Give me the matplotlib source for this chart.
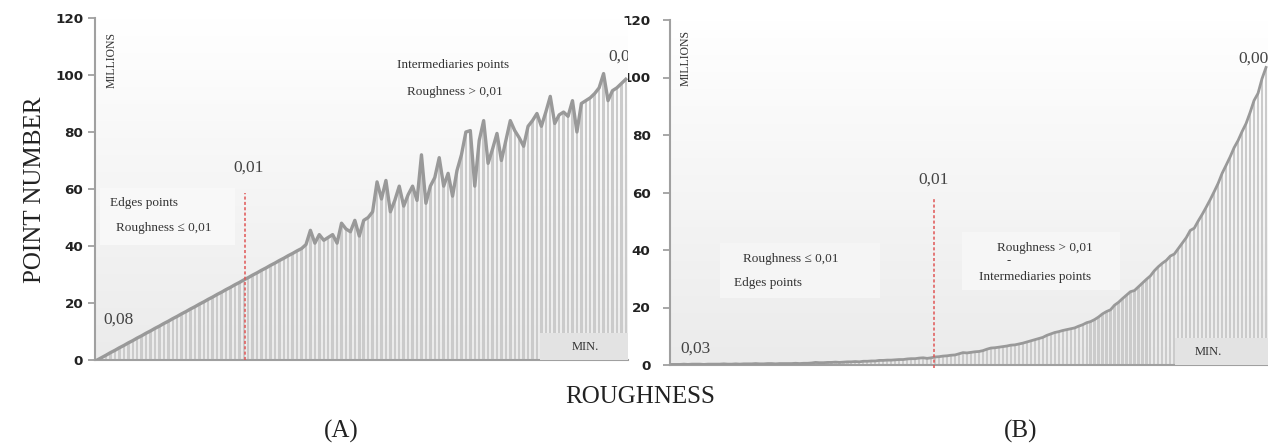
import numpy as np
import matplotlib
matplotlib.use('Agg')
import matplotlib.pyplot as plt
from matplotlib.patches import Rectangle
from matplotlib.colors import LinearSegmentedColormap

# point counts (millions) per roughness class, panel A
counts_a = [0, 0.85, 1.7, 2.6, 3.4, 4.3, 5.1, 6.0, 6.8, 7.7, 8.5, 9.4, 10.2, 11.1, 11.9,
            12.8, 13.6, 14.5, 15.3, 16.2, 17.0, 17.9, 18.7, 19.6, 20.4, 21.3, 22.1, 23.0,
            23.8, 24.7, 25.5, 26.4, 27.2, 28.1, 28.9, 29.8, 30.6, 31.5, 32.3, 33.2, 34.0,
            34.9, 35.7, 36.6, 37.4, 38.3, 39.1,
            40.5, 45.5, 41, 44, 42, 43, 44, 41, 48, 46, 45, 49, 43.5, 49, 50,
            52, 62.5, 56.5, 63, 52, 56, 61, 54, 58, 61, 56, 72, 55, 61, 64,
            71, 61, 65.5, 57.5, 66.5, 72, 80, 80.5, 61, 77, 84, 69, 74, 79.5, 70,
            77, 84, 80.5, 78, 75, 82, 84, 86.5, 82, 87, 92.5, 83, 86, 87, 85.5,
            91, 80, 90, 91, 92, 93.5, 95.5, 100.5, 91, 94.5, 95.5, 97, 98.5]

# panel B
counts_b = [0.2, 0.2, 0.2, 0.3, 0.2, 0.3, 0.3, 0.3, 0.2, 0.3, 0.3, 0.3, 0.3, 0.4, 0.3,
            0.3, 0.4, 0.3, 0.4, 0.4, 0.4, 0.5, 0.4, 0.4, 0.5, 0.5, 0.4, 0.5, 0.5, 0.5,
            0.5, 0.6, 0.5, 0.6, 0.6, 0.7, 0.9, 0.8, 0.8, 0.9, 0.9, 1.0, 0.9, 1.0, 1.1,
            1.1, 1.2, 1.1, 1.3, 1.3, 1.4, 1.4, 1.6, 1.6, 1.7, 1.7, 1.8, 1.9, 1.9, 2.1,
            2.2, 2.2, 2.4, 2.5, 2.3, 2.5, 2.8, 2.9, 3.1, 3.2, 3.4, 3.5, 3.9, 4.3, 4.2,
            4.4, 4.6, 4.7, 5.0, 5.5, 5.9, 6.0, 6.2, 6.4, 6.6, 6.9, 7.0, 7.3, 7.6, 8.0,
            8.4, 8.8, 9.2, 9.6, 10.3, 10.8, 11.3, 11.6, 12.0, 12.3, 12.6, 12.9, 13.5, 14.0, 14.7,
            15.1, 15.8, 16.7, 17.8, 18.6, 19.2, 20.8, 21.8, 23.1, 24.3, 25.5, 25.9, 27.2, 28.5, 29.8,
            31.0, 32.8, 34.2, 35.4, 36.4, 37.9, 38.6, 40.5, 42.4, 44.3, 46.8, 47.6, 50.1, 52.4, 54.9,
            57.5, 60.3, 63.2, 66.7, 69.5, 72.4, 75.6, 78.1, 81.2, 84.0, 87.8, 92.0, 94.5, 99.6, 103.5]

yticks = [0, 20, 40, 60, 80, 100, 120]
split_a = 33.3   # class index where roughness = 0,01
split_b = 65.7

W, H = 1268, 445
fig = plt.figure(figsize=(W / 100, H / 100), dpi=100)
serif = 'Liberation Serif'


def px(x, y):
    return x / W, 1 - y / H


def ftext(x, y, s, **kw):
    kw.setdefault('family', serif)
    kw.setdefault('color', '#333333')
    kw.setdefault('va', 'center')
    fig.text(*px(x, y), s, **kw)


def box(ax, x0, y0, x1, y1, color, z):
    ax.add_patch(Rectangle(px(x0, y1), (x1 - x0) / W, (y1 - y0) / H,
                           transform=fig.transFigure, fc=color, ec='none', zorder=z))


grad = np.linspace(0, 1, 256).reshape(-1, 1)
bg = LinearSegmentedColormap.from_list('bg', ['#ffffff', '#ebebeb'])


def panel(rect, vals, pad, lw):
    ax = fig.add_axes(rect)
    n = len(vals)
    x = np.arange(n)
    ax.imshow(grad, extent=(-0.5, n - 0.5, 0, 120), origin='upper', aspect='auto',
              cmap=bg, zorder=0)
    ax.bar(x, vals, width=0.55, color='#cbcbcb', zorder=2)
    ax.plot(x, vals, color='#999999', lw=lw, zorder=4, solid_joinstyle='round')
    ax.set_xlim(-0.5, n - 0.5)
    ax.set_ylim(0, 120)
    ax.set_yticks(yticks)
    ax.set_xticks([])
    for s in ['top', 'right']:
        ax.spines[s].set_visible(False)
    for s in ['left', 'bottom']:
        ax.spines[s].set_color('#a0a0a0')
        ax.spines[s].set_linewidth(1.5)
    ax.tick_params(axis='y', length=5, width=1.3, color='#a0a0a0', pad=pad)
    for t in ax.get_yticklabels():
        t.set_fontfamily('DejaVu Sans')
        t.set_fontweight('bold')
        t.set_fontsize(9.7)
        t.set_color('#222222')
    return ax


ax_a = panel([95 / W, 85 / H, 533 / W, 342 / H], counts_a, 3.5, 2.4)
ax_b = panel([670 / W, 80 / H, 598 / W, 345 / H], counts_b, 9, 2.0)
ax_a.set_zorder(3)
ax_b.set_zorder(1)

# red split lines
ax_a.plot([split_a, split_a], [0, 58.5], color='#e05555', lw=1.1, ls=(0, (2, 1.5)), zorder=5)
ax_b.plot([split_b, split_b], [-1, 58], color='#e05555', lw=1.1, ls=(0, (2, 1.5)),
          zorder=5, clip_on=False)

# MIN. boxes and faint label boxes
box(ax_a, 540, 333, 630, 360, '#e3e3e3', 3)
box(ax_b, 1175, 338, 1270, 365, '#e3e3e3', 3)
box(ax_a, 100, 188, 235, 245, '#f8f8f8', 1)
box(ax_b, 720, 243, 880, 298, '#f5f5f5', 1)
box(ax_b, 962, 232, 1120, 290, '#f6f6f6', 1)

ax_a.text(115, 106.5, '0,00', family=serif, fontsize=12.5, color='#444444', clip_on=True, va='center')
ax_b.text(142, 106.5, '0,00', family=serif, fontsize=12.5, color='#444444', clip_on=True, va='center')

ftext(35, 190, 'POINT NUMBER', fontsize=18, rotation=90, ha='center', color='#222222')
ftext(640, 397, 'ROUGHNESS', fontsize=18, ha='center', color='#222222')
ftext(341, 431, '(A)', fontsize=18, ha='center', color='#222222')
ftext(1021, 431, '(B)', fontsize=18, ha='center', color='#222222')

ftext(112, 60, 'MILLIONS', fontsize=8.5, rotation=90, ha='center')
ftext(686, 58, 'MILLIONS', fontsize=8.5, rotation=90, ha='center')

ftext(103, 320, '0,08', fontsize=12.5, color='#444444')
ftext(233, 168, '0,01', fontsize=12.5, color='#444444')
ftext(680, 349, '0,03', fontsize=12.5, color='#444444')
ftext(918, 180, '0,01', fontsize=12.5, color='#444444')

ftext(110, 203, 'Edges points', fontsize=9.5)
ftext(116, 228, 'Roughness ≤ 0,01', fontsize=9.5)
ftext(453, 65, 'Intermediaries points', fontsize=9.5, ha='center')
ftext(455, 92, 'Roughness > 0,01', fontsize=9.5, ha='center')

ftext(743, 259, 'Roughness ≤ 0,01', fontsize=9.5)
ftext(734, 283, 'Edges points', fontsize=9.5)
ftext(1045, 248, 'Roughness > 0,01', fontsize=9.5, ha='center')
ftext(1007, 261, '-', fontsize=9)
ftext(1035, 277, 'Intermediaries points', fontsize=9.5, ha='center')

ftext(585, 347, 'MIN.', fontsize=9, ha='center')
ftext(1208, 352, 'MIN.', fontsize=9, ha='center')

fig.savefig('out.png', dpi=100)
